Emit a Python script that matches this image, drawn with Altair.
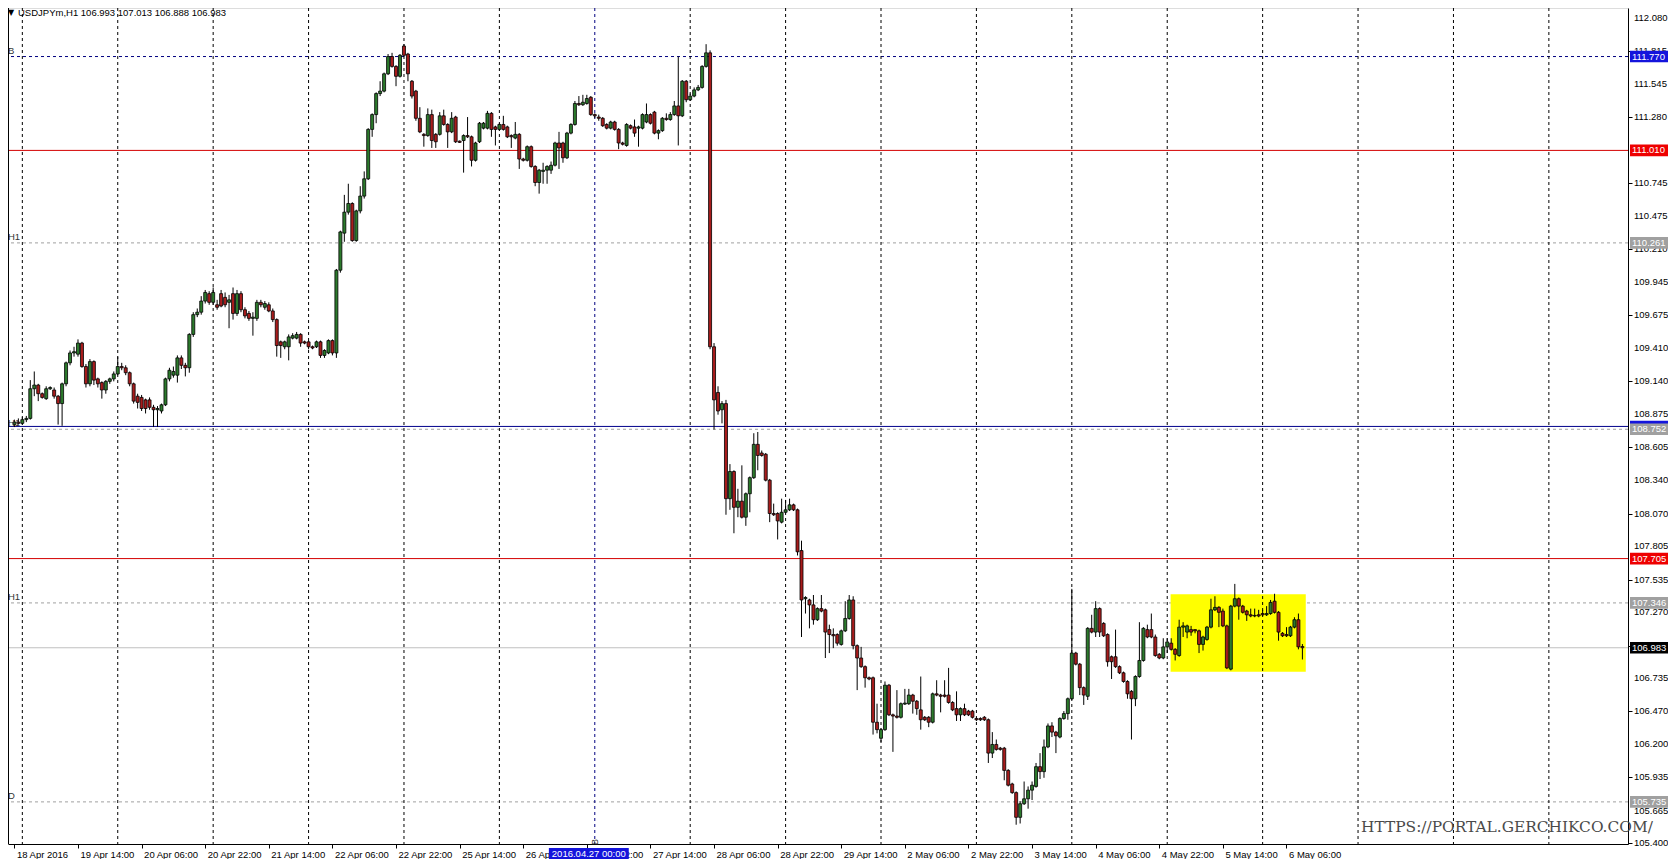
import altair as alt
import pandas as pd

# ---------------- data (hourly USDJPYm candles, bar 0 = 18 Apr 22:00) ----------------
opens = [
    108.79, 108.81, 108.80, 108.83, 108.84, 109.08, 109.11, 109.04, 109.00, 109.08,
    109.07, 109.02, 108.96, 109.12, 109.29, 109.37, 109.36, 109.45, 109.26, 109.12,
    109.30, 109.16, 109.13, 109.07, 109.14, 109.16, 109.20, 109.26, 109.25, 109.21,
    109.12, 109.02, 109.01, 108.99, 108.99, 108.93, 108.91, 108.90, 108.95, 109.16,
    109.19, 109.19, 109.33, 109.27, 109.25, 109.52, 109.68, 109.70, 109.79, 109.85,
    109.78, 109.76, 109.85, 109.82, 109.78, 109.85, 109.69, 109.85, 109.72, 109.69,
    109.65, 109.65, 109.78, 109.74, 109.76, 109.71, 109.64, 109.46, 109.42, 109.42,
    109.49, 109.49, 109.52, 109.46, 109.46, 109.42, 109.42, 109.46, 109.35, 109.37,
    109.47, 109.37, 110.04, 110.34, 110.51, 110.58, 110.28, 110.52, 110.64, 110.78,
    111.18, 111.30, 111.47, 111.49, 111.63, 111.77, 111.69, 111.61, 111.855, 111.79,
    111.57, 111.49, 111.27, 111.14, 111.13, 111.30, 111.14, 111.14, 111.29, 111.22,
    111.16, 111.28, 111.085, 111.09, 111.13, 111.12, 110.93, 111.08, 111.19, 111.19,
    111.31, 111.20, 111.18, 111.22, 111.20, 111.13, 111.11, 111.14, 110.94, 110.93,
    111.04, 110.88, 110.75, 110.84, 110.85, 110.85, 110.89, 111.07, 111.07, 110.95,
    111.15, 111.22, 111.39, 111.38, 111.39, 111.44, 111.30, 111.28, 111.27, 111.22,
    111.19, 111.24, 111.18, 111.07, 111.05, 111.21, 111.20, 111.19, 111.19, 111.24,
    111.30, 111.32, 111.15, 111.17, 111.27, 111.26, 111.30, 111.37, 111.29, 111.57,
    111.42, 111.45, 111.50, 111.52, 111.69, 111.80, 109.42, 109.05, 108.91, 108.96,
    108.19, 108.41, 108.12, 108.17, 108.04, 108.23, 108.36, 108.63, 108.56, 108.55,
    108.34, 108.07, 108.07, 108.00, 108.08, 108.10, 108.14, 108.10, 107.77, 107.38,
    107.37, 107.33, 107.21, 107.30, 107.29, 107.13, 107.09, 107.09, 107.01, 107.12,
    107.22, 107.37, 107.00, 106.90, 106.83, 106.74, 106.74, 106.38, 106.25, 106.32,
    106.68, 106.44, 106.43, 106.42, 106.527, 106.53, 106.60, 106.55, 106.48, 106.42,
    106.42, 106.38, 106.61, 106.60, 106.60, 106.60, 106.54, 106.49, 106.44, 106.49,
    106.47, 106.47, 106.41, 106.41, 106.42, 106.40, 106.13, 106.20, 106.17, 106.17,
    105.99, 105.88, 105.81, 105.61, 105.72, 105.76, 105.83, 105.86, 106.02, 105.98,
    106.18, 106.35, 106.30, 106.26, 106.41, 106.45, 106.57, 106.94, 106.85, 106.66,
    106.59, 107.14, 107.11, 107.30, 107.18, 107.09, 106.91, 106.91, 106.83, 106.78,
    106.71, 106.63, 106.57, 106.75, 106.88, 107.13, 107.13, 107.07, 106.93, 106.90,
    106.99, 107.02, 106.97, 106.92, 107.15, 107.11, 107.13, 107.13, 107.12, 107.01,
    107.05, 107.15, 107.29, 107.31, 107.28, 107.16, 106.81, 107.32, 107.38, 107.32,
    107.28, 107.25, 107.24, 107.25, 107.26, 107.25, 107.26, 107.36, 107.27, 107.10,
    107.09, 107.08, 107.15, 107.21, 106.993,
]
highs = [
    108.83, 108.84, 108.85, 108.86, 109.15, 109.22, 109.12, 109.05, 109.10, 109.10,
    109.09, 109.03, 109.13, 109.30, 109.39, 109.42, 109.48, 109.46, 109.28, 109.32,
    109.31, 109.17, 109.14, 109.15, 109.17, 109.22, 109.34, 109.29, 109.27, 109.22,
    109.13, 109.04, 109.03, 109.00, 109.01, 108.95, 108.94, 108.96, 109.17, 109.25,
    109.26, 109.35, 109.35, 109.29, 109.53, 109.70, 109.73, 109.83, 109.88, 109.87,
    109.90, 109.80, 109.88, 109.86, 109.84, 109.90, 109.88, 109.87, 109.74, 109.71,
    109.70, 109.80, 109.80, 109.79, 109.78, 109.73, 109.65, 109.47, 109.47, 109.52,
    109.53, 109.54, 109.53, 109.47, 109.47, 109.43, 109.47, 109.47, 109.40, 109.48,
    109.48, 110.05, 110.36, 110.65, 110.74, 110.59, 110.53, 110.72, 110.84, 111.19,
    111.31, 111.48, 111.57, 111.64, 111.79, 111.80, 111.70, 111.79, 111.87, 111.80,
    111.58, 111.50, 111.36, 111.15, 111.35, 111.34, 111.15, 111.32, 111.34, 111.23,
    111.32, 111.29, 111.09, 111.14, 111.28, 111.13, 111.08, 111.24, 111.24, 111.33,
    111.32, 111.21, 111.23, 111.29, 111.21, 111.14, 111.24, 111.15, 110.95, 111.05,
    111.05, 110.89, 110.86, 110.91, 110.89, 110.92, 111.08, 111.16, 111.08, 111.16,
    111.23, 111.41, 111.45, 111.46, 111.46, 111.45, 111.31, 111.30, 111.28, 111.23,
    111.25, 111.25, 111.19, 111.08, 111.23, 111.22, 111.26, 111.21, 111.31, 111.39,
    111.31, 111.33, 111.18, 111.28, 111.31, 111.32, 111.41, 111.77, 111.58, 111.58,
    111.47, 111.52, 111.54, 111.70, 111.87, 111.82, 109.45, 109.10, 108.98, 108.99,
    108.47, 108.42, 108.27, 108.46, 108.24, 108.37, 108.72, 108.73, 108.58, 108.56,
    108.35, 108.15, 108.08, 108.19, 108.18, 108.19, 108.15, 108.11, 107.85, 107.40,
    107.38, 107.41, 107.31, 107.41, 107.30, 107.17, 107.14, 107.10, 107.13, 107.36,
    107.41, 107.40, 107.01, 106.99, 106.84, 106.75, 106.75, 106.53, 106.33, 106.71,
    106.69, 106.45, 106.64, 106.54, 106.65, 106.65, 106.61, 106.56, 106.75, 106.43,
    106.43, 106.62, 106.72, 106.61, 106.72, 106.82, 106.55, 106.63, 106.50, 106.53,
    106.48, 106.48, 106.42, 106.42, 106.43, 106.41, 106.30, 106.24, 106.18, 106.18,
    106.00, 105.89, 105.82, 105.74, 105.90, 105.86, 105.90, 106.05, 106.13, 106.24,
    106.37, 106.38, 106.31, 106.42, 106.47, 106.58, 107.46, 106.95, 106.86, 106.67,
    107.15, 107.25, 107.36, 107.31, 107.19, 107.10, 106.92, 107.13, 106.84, 106.79,
    106.72, 106.64, 106.76, 107.19, 107.15, 107.17, 107.26, 107.09, 106.94, 107.06,
    107.06, 107.06, 106.98, 107.21, 107.19, 107.17, 107.16, 107.13, 107.13, 107.08,
    107.16, 107.38, 107.40, 107.32, 107.30, 107.17, 107.33, 107.50, 107.39, 107.33,
    107.29, 107.30, 107.30, 107.29, 107.29, 107.32, 107.37, 107.42, 107.28, 107.11,
    107.15, 107.16, 107.23, 107.26, 107.013,
]
lows = [
    108.77, 108.79, 108.79, 108.81, 108.83, 109.02, 108.98, 109.00, 108.99, 109.07,
    109.00, 108.79, 108.78, 109.10, 109.27, 109.34, 109.34, 109.25, 109.09, 109.10,
    109.11, 109.09, 109.00, 109.04, 109.12, 109.14, 109.19, 109.23, 109.19, 109.10,
    108.96, 108.92, 108.90, 108.88, 108.91, 108.77, 108.77, 108.88, 108.94, 109.14,
    109.17, 109.13, 109.24, 109.18, 109.21, 109.50, 109.66, 109.68, 109.77, 109.76,
    109.76, 109.72, 109.74, 109.74, 109.57, 109.64, 109.67, 109.70, 109.65, 109.63,
    109.51, 109.63, 109.74, 109.72, 109.70, 109.62, 109.34, 109.33, 109.40, 109.31,
    109.48, 109.48, 109.42, 109.44, 109.40, 109.40, 109.41, 109.33, 109.33, 109.36,
    109.35, 109.33, 110.02, 110.27, 110.49, 110.27, 110.27, 110.50, 110.62, 110.77,
    111.12, 111.23, 111.45, 111.48, 111.62, 111.68, 111.53, 111.60, 111.77, 111.57,
    111.43, 111.25, 111.15, 111.04, 111.12, 111.03, 111.03, 111.13, 111.21, 111.03,
    111.15, 111.07, 111.07, 110.83, 111.11, 110.88, 110.92, 111.07, 111.18, 111.18,
    111.12, 111.05, 111.17, 111.17, 111.11, 111.03, 111.10, 110.86, 110.92, 110.92,
    110.87, 110.72, 110.66, 110.74, 110.74, 110.82, 110.88, 110.86, 110.91, 110.94,
    111.14, 111.21, 111.37, 111.37, 111.38, 111.29, 111.27, 111.25, 111.20, 111.18,
    111.18, 111.17, 111.02, 111.05, 111.04, 111.18, 111.12, 111.04, 111.18, 111.23,
    111.22, 111.14, 111.10, 111.16, 111.25, 111.25, 111.29, 111.05, 111.28, 111.40,
    111.41, 111.44, 111.49, 111.51, 111.68, 109.40, 108.75, 108.87, 108.80, 108.06,
    108.10, 107.91, 108.04, 108.03, 107.97, 108.08, 108.35, 108.42, 108.53, 108.33,
    108.00, 108.05, 107.86, 107.99, 108.07, 108.09, 108.09, 107.73, 107.07, 107.26,
    107.14, 107.17, 107.20, 107.27, 106.90, 106.94, 106.98, 107.00, 107.00, 107.11,
    107.21, 106.97, 106.64, 106.82, 106.66, 106.72, 106.28, 106.29, 106.22, 106.31,
    106.43, 106.14, 106.41, 106.41, 106.52, 106.52, 106.45, 106.44, 106.32, 106.39,
    106.34, 106.37, 106.59, 106.46, 106.58, 106.53, 106.47, 106.39, 106.39, 106.43,
    106.43, 106.41, 106.39, 106.39, 106.39, 106.05, 106.09, 106.15, 106.15, 105.91,
    105.86, 105.80, 105.55, 105.56, 105.71, 105.68, 105.75, 105.85, 105.92, 105.93,
    106.17, 106.26, 106.13, 106.25, 106.40, 106.40, 106.56, 106.84, 106.60, 106.52,
    106.56, 107.10, 107.07, 107.07, 107.07, 106.83, 106.73, 106.82, 106.77, 106.70,
    106.57, 106.24, 106.51, 106.74, 106.87, 107.06, 107.06, 106.91, 106.89, 106.89,
    106.94, 106.96, 106.88, 106.91, 107.07, 107.06, 107.08, 107.10, 106.94, 106.96,
    107.04, 107.14, 107.28, 107.15, 107.15, 106.81, 106.80, 107.31, 107.21, 107.26,
    107.20, 107.23, 107.23, 107.23, 107.24, 107.24, 107.25, 107.26, 107.04, 107.07,
    107.07, 107.07, 107.14, 106.97, 106.888,
]
closes = [
    108.81, 108.80, 108.83, 108.84, 109.08, 109.11, 109.04, 109.01, 109.08, 109.09,
    109.02, 108.96, 109.12, 109.29, 109.37, 109.38, 109.45, 109.26, 109.12, 109.30,
    109.15, 109.12, 109.07, 109.14, 109.16, 109.20, 109.26, 109.25, 109.21, 109.12,
    108.98, 108.97, 108.92, 108.92, 108.93, 108.91, 108.92, 108.95, 109.16, 109.23,
    109.22, 109.33, 109.27, 109.25, 109.52, 109.68, 109.70, 109.79, 109.86, 109.78,
    109.86, 109.74, 109.75, 109.76, 109.80, 109.69, 109.85, 109.72, 109.67, 109.65,
    109.66, 109.78, 109.76, 109.77, 109.71, 109.64, 109.43, 109.43, 109.46, 109.50,
    109.51, 109.52, 109.45, 109.45, 109.42, 109.41, 109.46, 109.35, 109.39, 109.47,
    109.37, 110.04, 110.35, 110.51, 110.58, 110.28, 110.52, 110.64, 110.78, 111.18,
    111.30, 111.47, 111.49, 111.63, 111.77, 111.69, 111.61, 111.78, 111.78, 111.63,
    111.45, 111.27, 111.16, 111.13, 111.30, 111.09, 111.08, 111.29, 111.22, 111.16,
    111.27, 111.08, 111.075, 111.13, 111.12, 110.93, 111.07, 111.23, 111.23, 111.31,
    111.18, 111.18, 111.22, 111.18, 111.12, 111.12, 111.14, 110.94, 110.93, 111.04,
    110.88, 110.75, 110.85, 110.85, 110.88, 110.89, 111.07, 111.03, 110.95, 111.15,
    111.22, 111.39, 111.38, 111.40, 111.43, 111.30, 111.29, 111.27, 111.21, 111.19,
    111.24, 111.18, 111.07, 111.06, 111.22, 111.19, 111.15, 111.20, 111.30, 111.30,
    111.23, 111.15, 111.17, 111.27, 111.26, 111.30, 111.37, 111.29, 111.57, 111.42,
    111.45, 111.50, 111.52, 111.69, 111.80, 109.42, 108.99, 108.90, 108.96, 108.19,
    108.41, 108.12, 108.17, 108.04, 108.23, 108.36, 108.63, 108.54, 108.54, 108.34,
    108.07, 108.06, 108.01, 108.08, 108.10, 108.14, 108.10, 107.76, 107.37, 107.39,
    107.33, 107.21, 107.30, 107.28, 107.11, 107.09, 107.08, 107.02, 107.12, 107.22,
    107.37, 107.00, 106.90, 106.83, 106.74, 106.73, 106.38, 106.32, 106.32, 106.68,
    106.44, 106.43, 106.42, 106.53, 106.535, 106.60, 106.55, 106.49, 106.40, 106.40,
    106.38, 106.61, 106.60, 106.59, 106.59, 106.54, 106.48, 106.44, 106.49, 106.44,
    106.44, 106.42, 106.40, 106.40, 106.40, 106.13, 106.20, 106.16, 106.16, 105.99,
    105.87, 105.81, 105.61, 105.72, 105.76, 105.83, 105.87, 106.02, 105.98, 106.18,
    106.35, 106.30, 106.27, 106.41, 106.45, 106.57, 106.94, 106.85, 106.66, 106.60,
    107.14, 107.11, 107.30, 107.11, 107.08, 106.87, 106.87, 106.83, 106.78, 106.71,
    106.61, 106.57, 106.75, 106.88, 107.14, 107.07, 107.07, 106.92, 106.90, 106.99,
    107.03, 106.97, 106.93, 107.15, 107.16, 107.16, 107.11, 107.12, 107.01, 107.07,
    107.15, 107.29, 107.31, 107.27, 107.16, 106.82, 107.32, 107.38, 107.32, 107.27,
    107.25, 107.24, 107.245, 107.24, 107.25, 107.26, 107.35, 107.27, 107.11, 107.08,
    107.08, 107.15, 107.21, 106.99, 106.983,
]

x_labels = ["18 Apr 2016", "19 Apr 14:00", "20 Apr 06:00", "20 Apr 22:00", "21 Apr 14:00",
            "22 Apr 06:00", "22 Apr 22:00", "25 Apr 14:00", "26 Apr 06:00", "26 Apr 22:00",
            "27 Apr 14:00", "28 Apr 06:00", "28 Apr 22:00", "29 Apr 14:00", "2 May 06:00",
            "2 May 22:00", "3 May 14:00", "4 May 06:00", "4 May 22:00", "5 May 14:00",
            "6 May 06:00"]
x_label_bars = [16 * k for k in range(len(x_labels))]
midnight_bars = [2, 26, 50, 74, 98, 122, 170, 194, 218, 242, 266, 290, 314, 338, 362, 386]
marker_bar = [146]
marker_text = ["2016.04.27 00:00"]
y_ticks = [112.080, 111.815, 111.545, 111.280, 111.010, 110.745, 110.475, 110.210, 109.945,
           109.675, 109.410, 109.140, 108.875, 108.605, 108.340, 108.070, 107.805, 107.535,
           107.270, 107.000, 106.735, 106.470, 106.200, 105.935, 105.665, 105.400]

gray_levels = [110.261, 108.752, 107.346, 105.735]
navy_levels = [111.770]
solid_levels = [111.010, 107.705, 108.775, 106.983]
solid_colors = ["#d40000", "#d40000", "#00008b", "#c0c0c0"]
tag_levels = [111.770, 110.261, 108.752, 107.346, 105.735]
tag_names = ["B", "H1", "H1", "H1", "D"]
box_prices = [111.770, 111.010, 110.261, 108.775, 108.752, 107.705, 107.346, 106.983, 105.735]
box_fills = ["#1414dc", "#ee0000", "#a0a0a0", "#1414dc", "#a0a0a0", "#ee0000", "#a0a0a0", "#000000", "#a0a0a0"]
box_show = [1, 1, 1, 0, 1, 1, 1, 1, 1]
zone_bars = [290.85, 324.85]
zone_prices = [107.416, 106.789]
header = "USDJPYm,H1  106.993 107.013 106.888 106.983"
watermark = "HTTPS://PORTAL.GERCHIKCO.COM/"

# ---------------- chart ----------------
W, H = 1620, 836
FONT = "Liberation Sans"
xs = alt.Scale(domain=[-0.35, 404.65], nice=False, zero=False)
ys = alt.Scale(domain=[105.394, 112.163], nice=False, zero=False)
NOAX = alt.Axis(title=None)

candles = pd.DataFrame({"bar": list(range(len(opens))), "open": opens, "high": highs,
                        "low": lows, "close": closes})
candles["dir"] = ["up" if c >= o else "down" for o, c in zip(opens, closes)]

label_expr = "[" + ",".join("'" + s + "'" for s in x_labels) + "][round(datum.value / 16)]"

x_axis = alt.Axis(values=x_label_bars, labelExpr=label_expr, title=None, grid=False,
                  domain=True, ticks=True, labels=True,
                  domainColor="black", tickColor="black", tickSize=4, labelColor="black",
                  labelFont=FONT, labelFontSize=9.5, labelAlign="left", labelBaseline="top",
                  labelOffset=2, labelPadding=1, labelFlush=False, labelOverlap=False)
y_axis = alt.Axis(orient="right", values=y_ticks, title=None, grid=False,
                  domain=True, ticks=True, labels=False,
                  domainColor="black", tickColor="black", tickSize=4)

gray_lines = alt.Chart(pd.DataFrame({"p": gray_levels})).mark_rule(
    color="#a0a0a0", strokeDash=[3, 3], strokeWidth=1).encode(
    y=alt.Y("p:Q", scale=ys, axis=NOAX))
navy_lines = alt.Chart(pd.DataFrame({"p": navy_levels})).mark_rule(
    color="#000080", strokeDash=[3, 3], strokeWidth=1).encode(
    y=alt.Y("p:Q", scale=ys, axis=NOAX))
solid_lines = alt.Chart(pd.DataFrame({"p": solid_levels, "c": solid_colors})).mark_rule(
    strokeWidth=1).encode(
    y=alt.Y("p:Q", scale=ys, axis=NOAX), color=alt.Color("c:N", scale=None))

zone = alt.Chart(pd.DataFrame({"x0": [zone_bars[0]], "x1": [zone_bars[1]],
                               "y0": [zone_prices[0]], "y1": [zone_prices[1]]})).mark_rect(
    color="#ffff00").encode(
    x=alt.X("x0:Q", scale=xs, axis=NOAX), x2="x1:Q",
    y=alt.Y("y0:Q", scale=ys, axis=NOAX), y2="y1:Q")

grid = alt.Chart(pd.DataFrame({"bar": midnight_bars})).mark_rule(
    color="black", strokeDash=[3, 3], strokeWidth=1).encode(
    x=alt.X("bar:Q", scale=xs, axis=NOAX))
marker_line = alt.Chart(pd.DataFrame({"bar": marker_bar})).mark_rule(
    color="#000080", strokeDash=[3, 3], strokeWidth=1).encode(
    x=alt.X("bar:Q", scale=xs, axis=NOAX))

wicks = alt.Chart(candles).mark_rule(color="black", strokeWidth=1).encode(
    x=alt.X("bar:Q", scale=xs, axis=NOAX),
    y=alt.Y("low:Q", scale=ys, axis=NOAX), y2="high:Q")
bodies = alt.Chart(candles).mark_bar(size=3, stroke="black", strokeWidth=0.8).encode(
    x=alt.X("bar:Q", scale=xs, axis=x_axis),
    y=alt.Y("open:Q", scale=ys, axis=y_axis), y2="close:Q",
    color=alt.Color("dir:N", scale=alt.Scale(domain=["up", "down"],
                                             range=["#2c7a2c", "#a81c1c"]), legend=None))

# price labels of the right axis, placed with the y scale
y_labels = alt.Chart(pd.DataFrame({"p": y_ticks})).mark_text(
    align="left", baseline="middle", font=FONT, fontSize=9.5, color="black").encode(
    x=alt.value(W + 6), y=alt.Y("p:Q", scale=ys, axis=NOAX),
    text=alt.Text("p:Q", format=".3f"))

tags = alt.Chart(pd.DataFrame({"p": tag_levels, "t": tag_names})).mark_text(
    align="left", baseline="bottom", dy=-1, font=FONT, fontSize=9.5, color="#333333").encode(
    x=alt.value(0), y=alt.Y("p:Q", scale=ys, axis=NOAX), text="t:N")

head_tri = alt.Chart(pd.DataFrame({"t": ["\u25bc"]})).mark_text(
    align="left", baseline="middle", font="DejaVu Sans", fontSize=8, color="black").encode(
    x=alt.value(0), y=alt.value(4.5), text="t:N")
head_txt = alt.Chart(pd.DataFrame({"t": [header]})).mark_text(
    align="left", baseline="middle", font=FONT, fontSize=9.5, color="black").encode(
    x=alt.value(10), y=alt.value(4.5), text="t:N")

wm = alt.Chart(pd.DataFrame({"t": [watermark]})).mark_text(
    align="left", baseline="middle", font="DejaVu Serif", fontSize=15.4, color="#4a4a4a").encode(
    x=alt.value(1353), y=alt.value(819), text="t:N")

boxes_df = pd.DataFrame({"p": box_prices, "f": box_fills, "s": box_show})
boxes = alt.Chart(boxes_df).transform_calculate(
    lo="datum.p - 0.047", hi="datum.p + 0.047").mark_rect().encode(
    x=alt.value(W + 2), x2=alt.value(W + 40),
    y=alt.Y("lo:Q", scale=ys, axis=NOAX), y2="hi:Q",
    color=alt.Color("f:N", scale=None))
box_text = alt.Chart(boxes_df).transform_filter("datum.s == 1").mark_text(
    align="left", baseline="middle", font=FONT, fontSize=9.5, color="white").encode(
    x=alt.value(W + 4), y=alt.Y("p:Q", scale=ys, axis=NOAX),
    text=alt.Text("p:Q", format=".3f"))

mk_df = pd.DataFrame({"bar": marker_bar, "t": marker_text})
date_box = alt.Chart(mk_df).transform_calculate(
    b0="datum.bar - 11.55", b1="datum.bar + 8.55").mark_rect(color="#1414dc").encode(
    x=alt.X("b0:Q", scale=xs, axis=NOAX), x2="b1:Q",
    y=alt.value(H + 4), y2=alt.value(H + 15))
date_txt = alt.Chart(mk_df).transform_calculate(bc="datum.bar - 1.5").mark_text(
    align="center", baseline="middle", font=FONT, fontSize=9.5, color="white").encode(
    x=alt.X("bc:Q", scale=xs, axis=NOAX), y=alt.value(H + 9.5), text="t:N")
rot_b = alt.Chart(pd.DataFrame({"bar": marker_bar, "t": ["B"]})).mark_text(
    angle=270, align="center", baseline="middle", font=FONT, fontSize=9, dx=-7,
    color="#333333").encode(
    x=alt.X("bar:Q", scale=xs, axis=NOAX), y=alt.value(H - 9), text="t:N")

left_border = alt.Chart(pd.DataFrame({"v": [0]})).mark_rule(color="black", strokeWidth=1).encode(
    x=alt.value(0.5), y=alt.value(0), y2=alt.value(H))

chart = alt.layer(
    gray_lines, navy_lines, solid_lines, zone, grid, marker_line, wicks, bodies, y_labels,
    tags, head_tri, head_txt, wm, boxes, box_text, date_box, date_txt, rot_b, left_border
).properties(
    width=W, height=H,
    autosize=alt.AutoSizeParams(type="none"),
    padding={"left": 0, "top": 0, "right": 40, "bottom": 15},
).configure_view(stroke=None).configure(background="white")

chart.save("out.html", embed_options={"renderer": "svg", "actions": False})
